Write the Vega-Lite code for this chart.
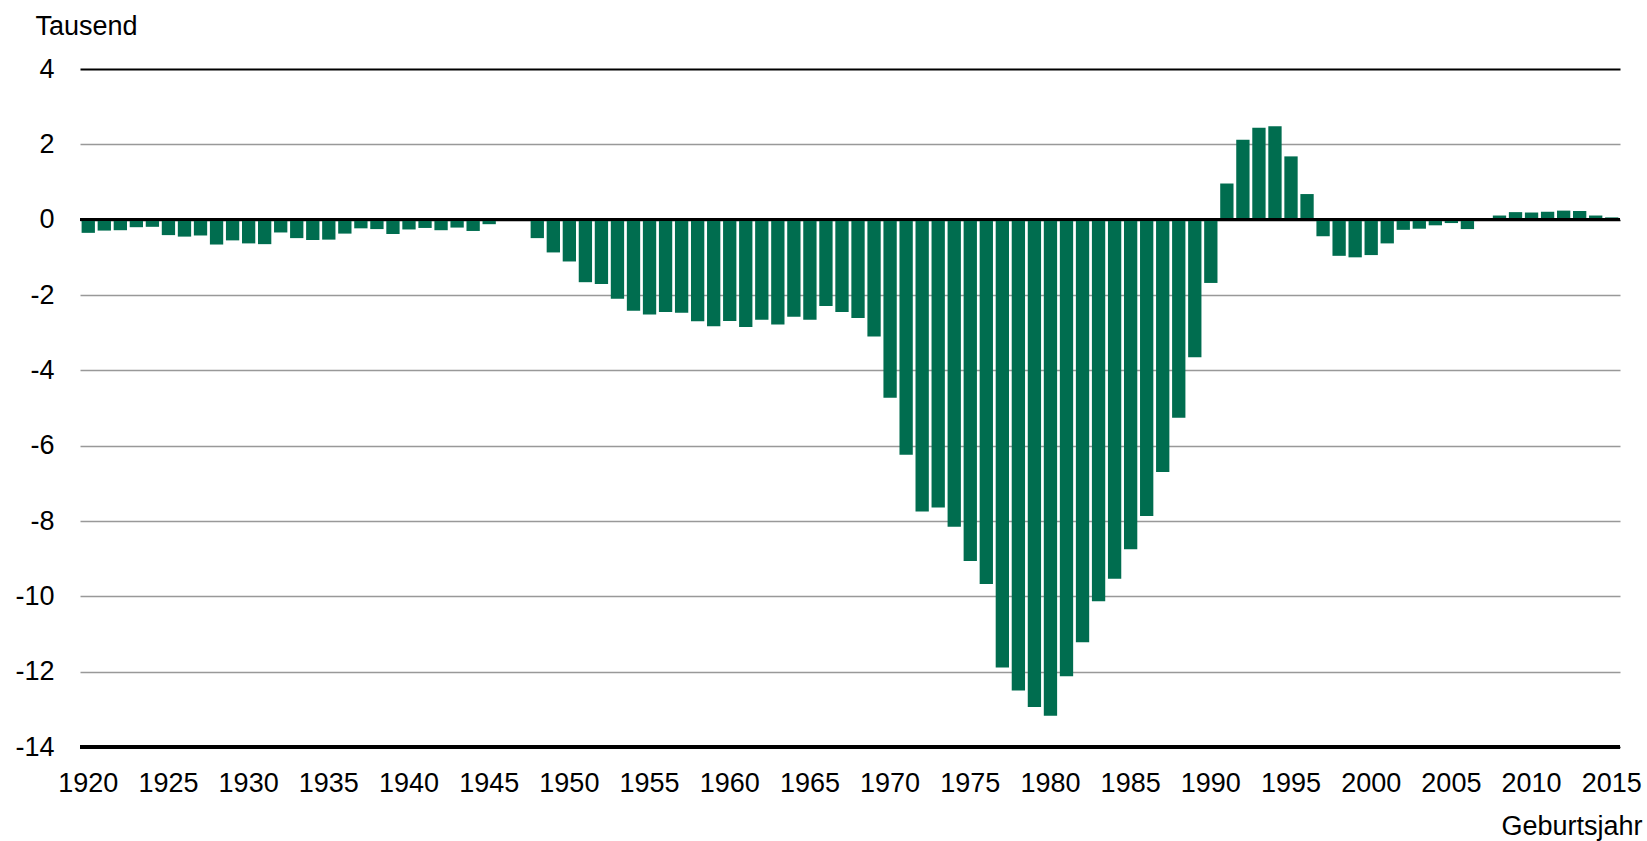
{
  "$schema": "https://vega.github.io/schema/vega-lite/v6.json",
  "width": 1540,
  "height": 678,
  "autosize": {"type": "none"},
  "padding": {"left": 80, "top": 69, "right": 27, "bottom": 94},
  "background": "white",
  "config": {"view": {"stroke": null}, "font": "Liberation Sans"},
  "data": {"values": [
    {"year": 1920, "value": -0.35}, {"year": 1921, "value": -0.29}, {"year": 1922, "value": -0.28}, {"year": 1923, "value": -0.20},
    {"year": 1924, "value": -0.19}, {"year": 1925, "value": -0.41}, {"year": 1926, "value": -0.45}, {"year": 1927, "value": -0.42},
    {"year": 1928, "value": -0.66}, {"year": 1929, "value": -0.55}, {"year": 1930, "value": -0.63}, {"year": 1931, "value": -0.65},
    {"year": 1932, "value": -0.34}, {"year": 1933, "value": -0.49}, {"year": 1934, "value": -0.54}, {"year": 1935, "value": -0.53},
    {"year": 1936, "value": -0.37}, {"year": 1937, "value": -0.23}, {"year": 1938, "value": -0.25}, {"year": 1939, "value": -0.38},
    {"year": 1940, "value": -0.26}, {"year": 1941, "value": -0.22}, {"year": 1942, "value": -0.28}, {"year": 1943, "value": -0.21},
    {"year": 1944, "value": -0.30}, {"year": 1945, "value": -0.12}, {"year": 1946, "value": 0}, {"year": 1947, "value": -0.03},
    {"year": 1948, "value": -0.49}, {"year": 1949, "value": -0.87}, {"year": 1950, "value": -1.11}, {"year": 1951, "value": -1.66},
    {"year": 1952, "value": -1.71}, {"year": 1953, "value": -2.10}, {"year": 1954, "value": -2.42}, {"year": 1955, "value": -2.52},
    {"year": 1956, "value": -2.45}, {"year": 1957, "value": -2.47}, {"year": 1958, "value": -2.70}, {"year": 1959, "value": -2.83},
    {"year": 1960, "value": -2.69}, {"year": 1961, "value": -2.85}, {"year": 1962, "value": -2.66}, {"year": 1963, "value": -2.78},
    {"year": 1964, "value": -2.58}, {"year": 1965, "value": -2.66}, {"year": 1966, "value": -2.29}, {"year": 1967, "value": -2.45},
    {"year": 1968, "value": -2.61}, {"year": 1969, "value": -3.10}, {"year": 1970, "value": -4.73}, {"year": 1971, "value": -6.24},
    {"year": 1972, "value": -7.75}, {"year": 1973, "value": -7.64}, {"year": 1974, "value": -8.15}, {"year": 1975, "value": -9.06},
    {"year": 1976, "value": -9.67}, {"year": 1977, "value": -11.89}, {"year": 1978, "value": -12.50}, {"year": 1979, "value": -12.94},
    {"year": 1980, "value": -13.17}, {"year": 1981, "value": -12.12}, {"year": 1982, "value": -11.22}, {"year": 1983, "value": -10.13},
    {"year": 1984, "value": -9.53}, {"year": 1985, "value": -8.75}, {"year": 1986, "value": -7.87}, {"year": 1987, "value": -6.70},
    {"year": 1988, "value": -5.26}, {"year": 1989, "value": -3.65}, {"year": 1990, "value": -1.68}, {"year": 1991, "value": 0.96},
    {"year": 1992, "value": 2.12}, {"year": 1993, "value": 2.44}, {"year": 1994, "value": 2.48}, {"year": 1995, "value": 1.68},
    {"year": 1996, "value": 0.68}, {"year": 1997, "value": -0.44}, {"year": 1998, "value": -0.96}, {"year": 1999, "value": -1.00},
    {"year": 2000, "value": -0.94}, {"year": 2001, "value": -0.63}, {"year": 2002, "value": -0.27}, {"year": 2003, "value": -0.24},
    {"year": 2004, "value": -0.15}, {"year": 2005, "value": -0.09}, {"year": 2006, "value": -0.25}, {"year": 2007, "value": 0},
    {"year": 2008, "value": 0.11}, {"year": 2009, "value": 0.20}, {"year": 2010, "value": 0.19}, {"year": 2011, "value": 0.21},
    {"year": 2012, "value": 0.24}, {"year": 2013, "value": 0.23}, {"year": 2014, "value": 0.11}, {"year": 2015, "value": 0.06}
  ]},
  "layer": [
    {
      "mark": {"type": "bar", "color": "#006d4f"},
      "encoding": {
        "x": {
          "field": "year",
          "type": "ordinal",
          "scale": {"paddingInner": 0.17, "paddingOuter": 0.1},
          "axis": {
            "values": [1920, 1925, 1930, 1935, 1940, 1945, 1950, 1955, 1960, 1965, 1970, 1975, 1980, 1985, 1990, 1995, 2000, 2005, 2010, 2015],
            "labelAngle": 0,
            "labelOverlap": false,
            "labelFontSize": 27,
            "labelColor": "black",
            "labelPadding": 23,
            "ticks": false,
            "tickSize": 0,
            "domain": false,
            "grid": false,
            "title": "Geburtsjahr",
            "titleFontSize": 27,
            "titleFontWeight": "normal",
            "titleColor": "black",
            "titleAlign": "right",
            "titleBaseline": "alphabetic",
            "titleX": 1562,
            "titleY": 87
          }
        },
        "y": {
          "field": "value",
          "type": "quantitative",
          "scale": {"domain": [-14, 4], "nice": false, "zero": false},
          "axis": {
            "values": [-14, -12, -10, -8, -6, -4, -2, 0, 2, 4],
            "labelExpr": "'' + datum.value",
            "labelFontSize": 27,
            "labelColor": "black",
            "labelPadding": 26,
            "ticks": false,
            "tickSize": 0,
            "domain": false,
            "grid": true,
            "gridColor": {"condition": {"test": "datum.value === 4 || datum.value === -14 || datum.value === 0", "value": "black"}, "value": "#999999"},
            "gridWidth": {"condition": {"test": "datum.value === 4", "value": 2}, "value": 1.5},
            "title": "Tausend",
            "titleAngle": 0,
            "titleFontSize": 27,
            "titleFontWeight": "normal",
            "titleColor": "black",
            "titleAlign": "left",
            "titleBaseline": "alphabetic",
            "titleX": -45,
            "titleY": -35
          }
        }
      }
    },
    {
      "mark": {"type": "rule", "color": "black", "strokeWidth": 2.7},
      "encoding": {"y": {"datum": 0}}
    },
    {
      "mark": {"type": "rule", "color": "black", "strokeWidth": 2.5},
      "encoding": {"y": {"datum": -14}}
    }
  ]
}
